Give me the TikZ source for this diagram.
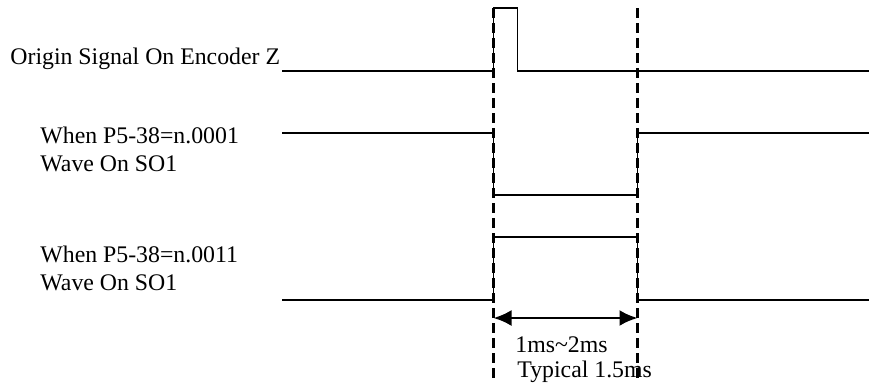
\documentclass[tikz,border=0pt]{standalone}
\usepackage{fontspec}
\setmainfont{Liberation Serif}
\usetikzlibrary{arrows.meta}

\begin{document}
\begin{tikzpicture}[
    x=0.5pt, y=-0.5pt,
    wave/.style={line width=0.65pt},
    marker/.style={line width=1.2pt, dash pattern=on 5pt off 2.5pt},
    label/.style={anchor=base west, inner sep=0pt, align=left, font=\fontsize{11.9}{14}\selectfont},
    span/.style={line width=1.2pt, {Latex[length=9pt,width=8pt]}-{Latex[length=9pt,width=8pt]}}
]
\useasboundingbox (0,0) rectangle (869,388);

% Signal labels (base is the last line)
\node[label] (lblZ) at (10,64) {Origin Signal On Encoder Z};
\node[label] (lblA) at (40,171) {When P5-38=n.0001\\Wave On SO1};
\node[label] (lblB) at (40,290) {When P5-38=n.0011\\Wave On SO1};

% Waveforms
\draw[wave] (282,71) -- (493.5,71) -- (493.5,8) -- (517.5,8) -- (517.5,71) -- (869,71);
\draw[wave] (282,133) -- (493.5,133) -- (493.5,195) -- (637.5,195) -- (637.5,133) -- (869,133);
\draw[wave] (282,300) -- (493.5,300) -- (493.5,237) -- (637.5,237) -- (637.5,300) -- (869,300);

% Time markers
\coordinate (T1top) at (493.5,8);
\coordinate (T1bot) at (493.5,380);
\coordinate (T2top) at (637.5,8);
\coordinate (T2bot) at (637.5,380);
\draw[marker] (T1top) -- (T1bot);
\draw[marker] (T2top) -- (T2bot);

% Pulse width
\coordinate (W1) at (493.5,318);
\coordinate (W2) at (637.5,318);
\draw[span] (W1) -- (W2);
\node[label] (lblW) at (515,352) {1ms\char`~2ms};
\node[label] (lblT) at (517,377) {Typical 1.5ms};

\end{tikzpicture}
\end{document}
